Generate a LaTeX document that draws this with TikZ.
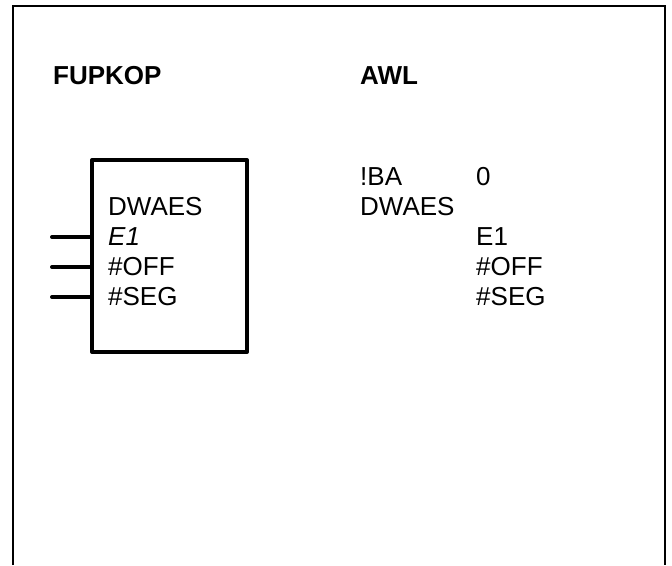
\documentclass[tikz,border=0pt]{standalone}
\usepackage{fontspec}
\setmainfont{Liberation Sans}
\begin{document}
\begin{tikzpicture}[x=1pt,y=-1pt,
  txt/.style={anchor=base west,inner sep=0pt,font=\fontsize{26}{30}\selectfont},
  hdr/.style={txt,font=\fontsize{26}{30}\selectfont\bfseries},
  fbox/.style={draw,line width=4pt,line join=round,minimum width=155pt,minimum height=192pt,inner sep=0pt},
  pin/.style={line width=4pt,line cap=round}]
\useasboundingbox (0,0) rectangle (672,565);
\coordinate (fbl) at (13,565);
\coordinate (ftl) at (13,6);
\coordinate (ftr) at (665,6);
\coordinate (fbr) at (665,565);
\draw[line width=1.1pt] (fbl) -- (ftl) -- (ftr) -- (fbr);
\node[hdr] (h1) at (53,84) {FUPKOP};
\node[hdr] (h2) at (360,84) {AWL};
\node[fbox] (box) at (169.5,256) {};
\node[txt] (l0) at (108,215) {DWAES};
\node[txt] (l1) at (108,245) {\itshape E1};
\node[txt] (l2) at (108,275) {\#OFF};
\node[txt] (l3) at (108,305) {\#SEG};
\coordinate (p1) at (52,237);
\coordinate (p2) at (52,267);
\coordinate (p3) at (52,297);
\draw[pin] (p1) -- (p1 -| box.west);
\draw[pin] (p2) -- (p2 -| box.west);
\draw[pin] (p3) -- (p3 -| box.west);
\node[txt] (r0) at (360,185) {!BA};
\node[txt] (r0b) at (476,185) {0};
\node[txt] (r1) at (360,215) {DWAES};
\node[txt] (r2) at (476,245) {E1};
\node[txt] (r3) at (476,275) {\#OFF};
\node[txt] (r4) at (476,305) {\#SEG};
\end{tikzpicture}
\end{document}
